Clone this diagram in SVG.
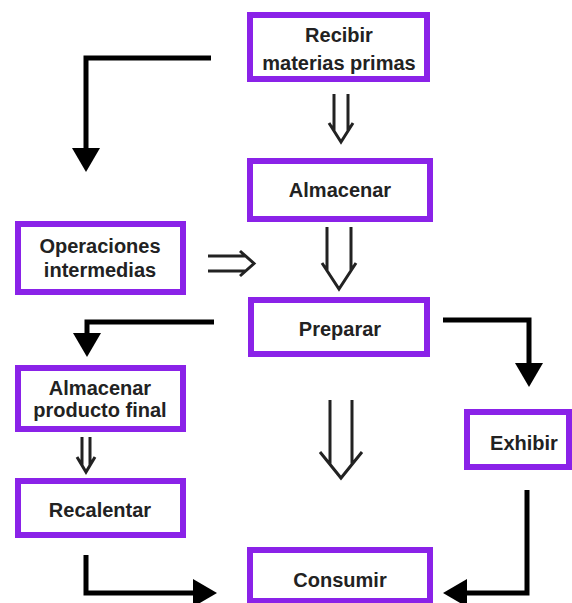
<svg xmlns="http://www.w3.org/2000/svg" width="572" height="603" viewBox="0 0 572 603">
<defs>
<style>
.box{fill:#fff;stroke:#8a22e8;stroke-width:6}
.t{font-family:"Liberation Sans",Arial,sans-serif;font-weight:bold;font-size:20px;fill:#222;text-anchor:middle}
.thick{fill:none;stroke:#000;stroke-width:5;stroke-linejoin:miter}
.thin{fill:none;stroke:#222;stroke-width:3;stroke-linecap:butt;stroke-linejoin:miter}
</style>
<marker id="ah" markerUnits="userSpaceOnUse" markerWidth="24" markerHeight="28" viewBox="0 0 24 28" refX="2" refY="14" orient="auto">
<path d="M0,0 L24,14 L0,28 z" fill="#000"/>
</marker>
</defs>
<rect width="572" height="603" fill="#fff"/>
<g id="connectors">
<path class="thick" d="M211,58 H86 V150" marker-end="url(#ah)"/>
<path class="thick" d="M214,322 H87 V335" marker-end="url(#ah)"/>
<path class="thick" d="M443,320 H529 V365" marker-end="url(#ah)"/>
<path class="thick" d="M86,555 V593 H195" marker-end="url(#ah)"/>
<path class="thick" d="M527,490 V593 H465" marker-end="url(#ah)"/>
<path class="thin" d="M334,94 V131 M348,94 V131 M329,123 L341,142 L353,123"/>
<path class="thin" d="M327,227 V271 M351,227 V271 M322,263 L339,289 L356,263"/>
<path class="thin" d="M330,400 V464 M352,400 V464 M320,452 L341,478 L362,452"/>
<path class="thin" d="M82,437 V465 M90,437 V465 M77,457 L86,472 L95,457"/>
<path class="thin" d="M208,256 H246 M208,271 H246 M240,251 L254,263.5 L240,276"/>
</g>
<g id="recibir"><rect class="box" x="250" y="15" width="177" height="64"/><text class="t" x="339" y="42">Recibir</text><text class="t" x="339" y="70">materias primas</text></g>
<g id="almacenar"><rect class="box" x="250" y="161" width="180" height="58"/><text class="t" x="340" y="197">Almacenar</text></g>
<g id="operaciones"><rect class="box" x="18" y="224" width="165" height="68"/><text class="t" x="100" y="253">Operaciones</text><text class="t" x="100" y="277">intermedias</text></g>
<g id="preparar"><rect class="box" x="251" y="300" width="176" height="54"/><text class="t" x="340" y="336">Preparar</text></g>
<g id="almacenar-producto"><rect class="box" x="18" y="368" width="165" height="61"/><text class="t" x="100" y="395">Almacenar</text><text class="t" x="100" y="417">producto final</text></g>
<g id="recalentar"><rect class="box" x="18" y="481" width="165" height="54"/><text class="t" x="100" y="517">Recalentar</text></g>
<g id="exhibir"><rect class="box" x="467" y="412" width="102" height="55"/><text class="t" x="524" y="450">Exhibir</text></g>
<g id="consumir"><rect class="box" x="250" y="550" width="180" height="51"/><text class="t" x="340" y="587">Consumir</text></g>
</svg>
